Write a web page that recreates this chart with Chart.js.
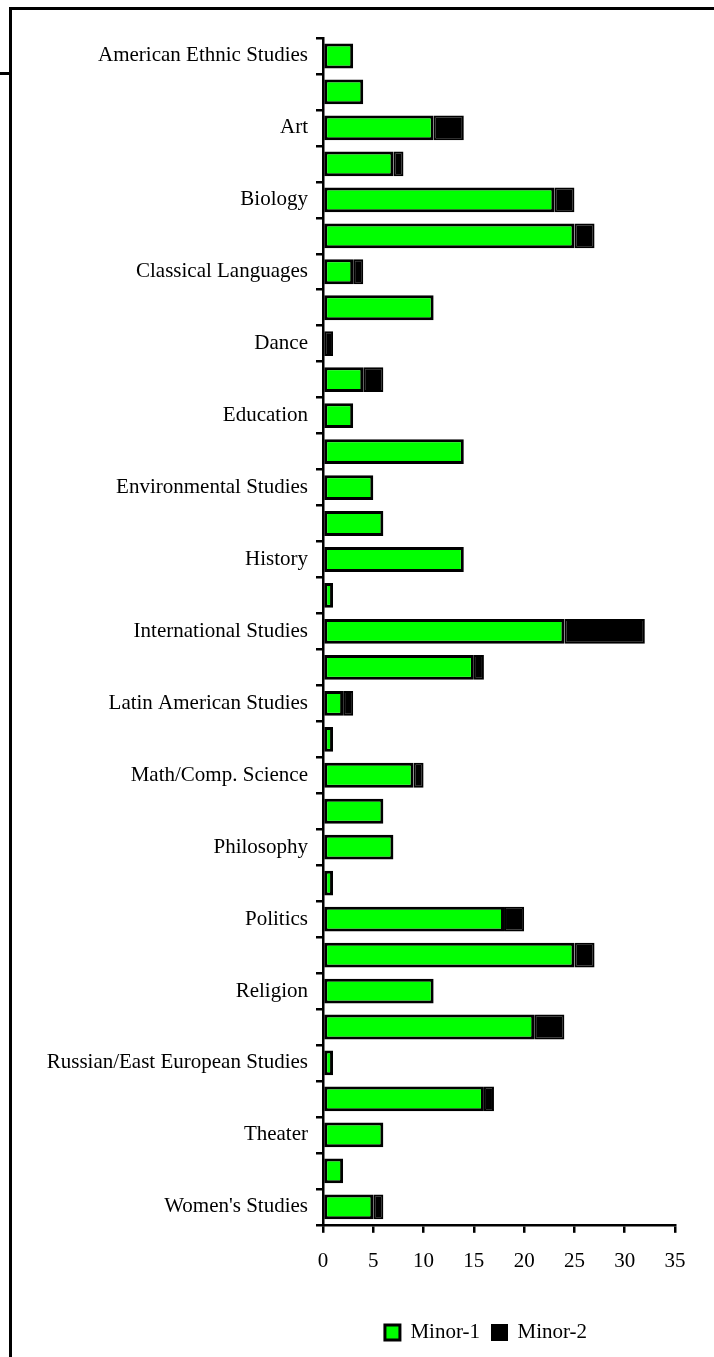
<!DOCTYPE html>
<html lang="en">
<head>
  <meta charset="UTF-8" />
  <title>Minors</title>
  <script src="https://cdn.jsdelivr.net/npm/chart.js"></script>
  <style>
    html, body { margin: 0; padding: 0; background: #fff; overflow: hidden; }
    .wrap { position: relative; width: 714px; height: 1357px; }
    .frame { position: absolute; left: 9px; top: 7px; width: 720px; height: 1360px;
             border-left: 3px solid #000; border-top: 3px solid #000; }
    .stub { position: absolute; left: 0; top: 72px; width: 10px; height: 3px; background: #000; }
    canvas { position: absolute; left: 0; top: 0; }
  </style>
</head>
<body>
  <div class="wrap">
    <div class="frame"></div>
    <div class="stub"></div>
    <canvas id="minorChart" width="714" height="1357"></canvas>
  </div>

  <script>
    // categories (every second name is not shown on the axis)
    const majors = [
      'American Ethnic Studies', 'Anthropology', 'Art', 'Asian Studies', 'Biology',
      'Chemistry', 'Classical Languages', 'Communication', 'Dance', 'Economics',
      'Education', 'English', 'Environmental Studies', 'French', 'History',
      'Humanities', 'International Studies', 'Japanese', 'Latin American Studies', 'Linguistics',
      'Math/Comp. Science', 'Music', 'Philosophy', 'Physics', 'Politics',
      'Psychology', 'Religion', 'Romance Languages', 'Russian/East European Studies', 'Sociology',
      'Theater', 'Urban Studies', "Women's Studies"
    ];
    const minor1 = [3, 4, 11, 7, 23, 25, 3, 11, 0, 4, 3, 14, 5, 6, 14, 1, 24, 15, 2, 1, 9, 6, 7, 1, 18, 25, 11, 21, 1, 16, 6, 2, 5];
    const minor2 = [0, 0, 3, 1, 2, 2, 1, 0, 1, 2, 0, 0, 0, 0, 0, 0, 8, 1, 1, 0, 1, 0, 0, 0, 2, 2, 0, 3, 0, 1, 0, 0, 1];
    const xTicks = [0, 5, 10, 15, 20, 25, 30, 35];

    const serif = { family: '"Liberation Serif", "Times New Roman", serif', size: 21 };

    // nudge the legend a bit to the left, like the original
    const legendShift = {
      id: 'legendShift',
      afterLayout(chart) {
        if (chart.legend) {
          chart.legend.left -= 13;
          chart.legend.right -= 13;
        }
      }
    };

    const ctx = document.getElementById('minorChart').getContext('2d');
    new Chart(ctx, {
      type: 'bar',
      data: {
        labels: majors,
        datasets: [
          { label: 'Minor-1', data: minor1, backgroundColor: '#00FF00', borderColor: '#000', borderWidth: 3, borderSkipped: false },
          { label: 'Minor-2', data: minor2, backgroundColor: '#000', borderColor: '#000', borderWidth: 2, borderSkipped: false }
        ]
      },
      options: {
        indexAxis: 'y',
        responsive: false,
        animation: false,
        categoryPercentage: 1,
        barPercentage: 0.69,
        layout: { padding: { top: 38, right: 39, left: 0, bottom: 4 } },
        scales: {
          x: {
            stacked: true,
            min: 0,
            max: 35,
            afterBuildTicks: (scale) => { scale.ticks = xTicks.map(v => ({ value: v })); },
            afterFit: (scale) => { scale.height += 20; },
            border: { color: '#000', width: 2.5 },
            grid: { drawOnChartArea: false, drawTicks: true, tickLength: 8, color: '#000', lineWidth: 2.5 },
            ticks: { color: '#000', font: serif, padding: 16, maxRotation: 0 }
          },
          y: {
            stacked: true,
            afterFit: (scale) => { scale.width = 323; },
            border: { color: '#000', width: 2.5 },
            grid: { drawOnChartArea: false, drawTicks: true, tickLength: 7, color: '#000', lineWidth: 2.5, offset: true },
            ticks: {
              color: '#000',
              font: serif,
              padding: 8,
              autoSkip: false,
              callback: function (v, i) { return i % 2 === 0 ? this.getLabelForValue(v) : ''; }
            }
          }
        },
        plugins: {
          legend: {
            position: 'bottom',
            fullSize: false,
            labels: { color: '#000', font: serif, boxWidth: 15, boxHeight: 15, padding: 12 }
          },
          tooltip: { enabled: false }
        }
      },
      plugins: [legendShift]
    });
  </script>
</body>
</html>
